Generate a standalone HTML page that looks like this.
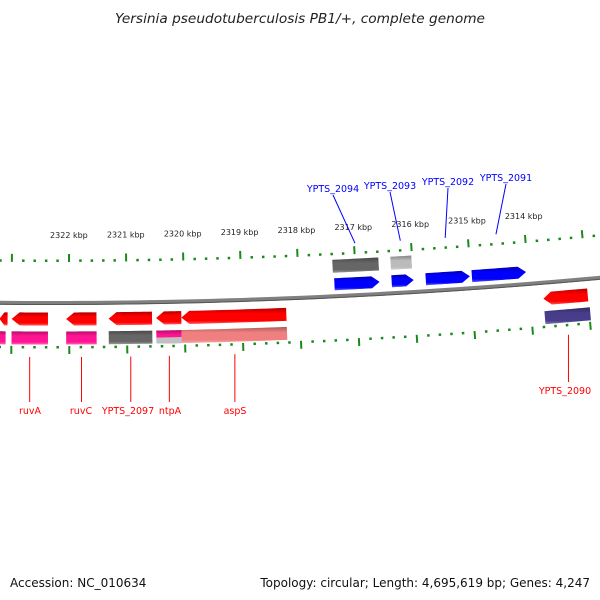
<!DOCTYPE html>
<html><head><meta charset="utf-8"><style>
html,body{margin:0;padding:0;background:#fff;}
svg{display:block;font-family:"DejaVu Sans","Liberation Sans",sans-serif;}
</style></head><body>
<svg id="map" width="600" height="600" viewBox="0 0 600 600">
<defs>
<linearGradient id="shade" x1="0" y1="0" x2="0" y2="1">
<stop offset="0" stop-color="#000" stop-opacity="0.3"/>
<stop offset="0.35" stop-color="#000" stop-opacity="0"/>
<stop offset="0.8" stop-color="#fff" stop-opacity="0"/>
<stop offset="1" stop-color="#fff" stop-opacity="0.35"/>
</linearGradient>
</defs>
<text x="300" y="23" text-anchor="middle" font-size="13.7" font-style="italic" fill="#222">Yersinia pseudotuberculosis PB1/+, complete genome</text>
<g id="marks"></g>
<text x="10" y="587" font-size="12" fill="#111">Accession: NC_010634</text>
<text x="590" y="587" text-anchor="end" font-size="12" fill="#111">Topology: circular; Length: 4,695,619 bp; Genes: 4,247</text>
</svg>
<script>
// data
const fwdStart = [2317377, 2316379, 2315784, 2314979];
const fwdEnd   = [2316589, 2315994, 2315013, 2314033];
const fwdNames = ['YPTS_2094','YPTS_2093','YPTS_2092','YPTS_2091'];
const outerStart = [2317395, 2316379];
const outerEnd   = [2316589, 2316011];
const outerColors = ['#666666','#bbbbbb'];
const revStart = [2323068, 2322368, 2321527, 2320564, 2320056, 2318235, 2312999, 2312352];
const revEnd   = [2323208, 2322998, 2322053, 2321317, 2320494, 2320056, 2313770, 2312755];
const revNames = ['', 'ruvA', 'ruvC', 'YPTS_2097', 'ntpA', 'aspS', 'YPTS_2090', ''];
const lowStart = [2323100, 2322368, 2321527, 2320564, 2320056, 2318235, 2312982, 2312352];
const lowEnd   = [2323208, 2322998, 2322053, 2321317, 2320494, 2320056, 2313770, 2312755];
const lowColors = ['#ff1493','#ff1493','#ff1493','#666666','#ff1493','#f08080','#483d8b','#888888'];
const kbpTicks = [2314,2315,2316,2317,2318,2319,2320,2321,2322];

// geometry
const CX = 50, CY = -5697, RB = 6000;
const K = 57.1/5955/1000;
const PHI0 = Math.asin(19/5955);
function ang(bp){ return (2322000 - bp)*K + PHI0; }
function pt(bp, r){ const a = ang(bp); return [CX + r*Math.sin(a), CY + r*Math.cos(a)]; }
const g = document.getElementById('marks');
const NS = 'http://www.w3.org/2000/svg';
function mk(tag, attrs){ const e = document.createElementNS(NS, tag); for (const k in attrs) e.setAttribute(k, attrs[k]); g.appendChild(e); return e; }

function arcPoly(s, e, r, h, head){
  const lo = Math.min(s,e), hi = Math.max(s,e);
  const headBp = 8/(K*r*1000)*1000;
  let a1 = hi, a2 = lo;
  let top = [], bot = [];
  let hs = head==='left' ? Math.min(headBp, (hi-lo)*0.6) : 0;
  let he = head==='right' ? Math.min(headBp, (hi-lo)*0.6) : 0;
  const n = 12;
  for (let i=0;i<=n;i++){ const b = (a1-hs) + ((a2+he)-(a1-hs))*i/n; top.push(pt(b, r-h/2)); bot.push(pt(b, r+h/2)); }
  let poly = [];
  if (head==='left'){ poly.push(pt(a1, r)); }
  poly = poly.concat(top);
  if (head==='right'){ poly.push(pt(a2, r)); }
  poly = poly.concat(bot.reverse());
  return poly.map(p=>p[0].toFixed(2)+','+p[1].toFixed(2)).join(' ');
}

// backbone
(function(){
  let d = '';
  for (let b=2324000; b>=2311000; b-=200){ const p = pt(b, RB); d += (d?'L':'M')+p[0].toFixed(2)+','+p[1].toFixed(2); }
  const bb = mk('path', {d:d, fill:'none', stroke:'#808080', 'stroke-width':4});
  
  
  const bb2 = mk('path', {d:d, fill:'none', stroke:'#555', 'stroke-width':1, transform:'translate(0,1.5)'});
  
  
})();

// ticks
function ticks(r, dir, ring){
  for (let b=2310000; b<=2324000; b+=200){
    const major = b % 1000 === 0;
    const len = major ? 8 : 2.5;
    const p1 = pt(b, r), p2 = pt(b, r + dir*len);
    const t = mk('line', {x1:p1[0], y1:p1[1], x2:p2[0], y2:p2[1], stroke:'#1a8a1a', 'stroke-width': major?2:2.5});
    
    
  }
}
ticks(5959, -1, 'inner');
ticks(6043, 1, 'outer');
kbpTicks.forEach(k=>{
  const p = pt(k*1000, 5935);
  const t = mk('text', {x:p[0].toFixed(1), y:p[1].toFixed(1), 'text-anchor':'middle', 'font-size':8, fill:'#222'});
  t.textContent = k + ' kbp';
  
  
});

function gene(s, e, r, h, color, head, name){
  const pts = arcPoly(s, e, r, h, head);
  const p = mk('polygon', {points:pts, fill:color});
  
  
  const o = mk('polygon', {points:pts, fill:'url(#shade)'});
  
  
}
outerStart.forEach((s,i)=> gene(s, outerEnd[i], 5970, 13, outerColors[i], null, 'outer-feature-' + i));
fwdStart.forEach((s,i)=> gene(s, fwdEnd[i], 5988, 12, '#0000ff', 'right', 'gene-' + fwdNames[i]));
revStart.forEach((s,i)=> gene(s, revEnd[i], 6016, 13, '#ff0000', 'left', 'gene-rev-' + i));
lowStart.forEach((s,i)=> gene(s, lowEnd[i], 6035, 13, lowColors[i], null, 'lower-feature-' + i));
(function(){
  const pts = arcPoly(lowStart[4], lowEnd[4], 6038.5, 6, null);
  const p = mk('polygon', {points:pts, fill:'#c0c0c0'});
  
  
})();

// labels forward
const fwdLabelX = [333, 390, 448, 506];
const fwdLabelY = [192, 189, 185, 181];
fwdNames.forEach((n,i)=>{
  const mid = (fwdStart[i] + fwdEnd[i]) / 2;
  const a = pt(mid, 5948);
  const l = mk('line', {x1:fwdLabelX[i], y1:fwdLabelY[i]+3, x2:a[0], y2:a[1], stroke:'#0000ff', 'stroke-width':1});
  
  
  const t = mk('text', {x:fwdLabelX[i], y:fwdLabelY[i], 'text-anchor':'middle', 'font-size':9.5, fill:'#0000ff'});
  t.textContent = n;
  
  
});
// labels reverse
const revLabelX = {1:30, 2:81, 3:128, 4:170, 5:235, 6:565};
revNames.forEach((n,i)=>{
  if (!n) return;
  const mid = (revStart[i] + revEnd[i]) / 2;
  const a = pt(mid, 6050);
  const lx = revLabelX[i];
  const ly = (i===6) ? 394 : 414;
  const l = mk('line', {x1:a[0], y1:a[1]+4, x2:a[0], y2:ly-12, stroke:'#ff0000', 'stroke-width':1});
  
  
  const t = mk('text', {x:lx, y:ly, 'text-anchor':'middle', 'font-size':9.5, fill:'#ff0000'});
  t.textContent = n;
  
  
});
</script>
</body></html>
